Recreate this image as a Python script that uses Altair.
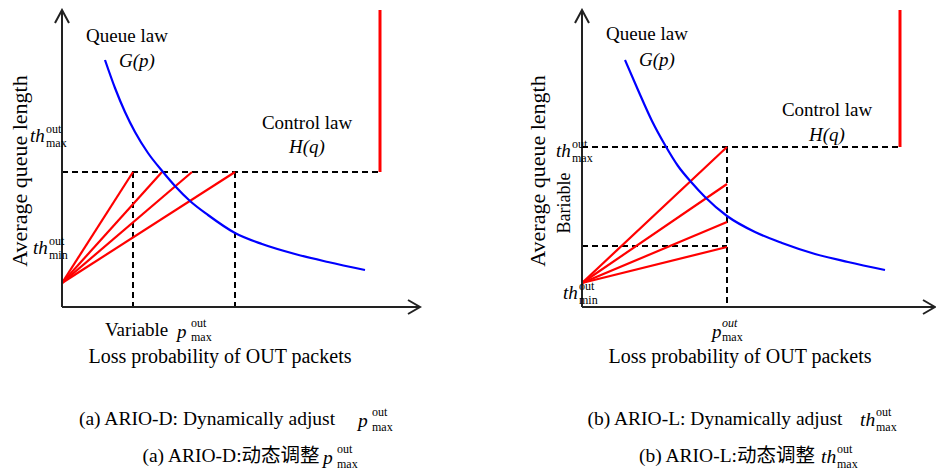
import altair as alt
import pandas as pd

# ---------------- data (in page-pixel-like units, mapped by linear scales) ----------------
# Panel (a): ARIO-D
a_axis_origin = (62, 307)
a_axis_top = 10
a_axis_right = 420
a_curve_x = [105, 115, 125, 135, 148, 163, 175, 190, 208, 235, 262, 295, 328, 365]
a_curve_y = [60, 88, 112, 132, 153, 172, 186, 201, 215, 233, 244, 254, 262, 270]
a_red_start = (62, 283)
a_red_end_x = [133, 162, 192, 235]
a_thmax_y = 172
a_ctrl_x = 380
a_dash_vx = [133, 235]

# Panel (b): ARIO-L
b_axis_origin = (582, 307)
b_axis_top = 10
b_axis_right = 935
b_curve_x = [625, 638, 652, 665, 678, 692, 705, 727, 755, 782, 815, 848, 885]
b_curve_y = [60, 90, 121, 145, 166, 183, 197, 216, 232, 243, 254, 262, 270]
b_red_start = (582, 283)
b_red_end_x = 727
b_red_end_y = [147, 184, 222, 247]
b_thmax_y = 147
b_low_y = 246
b_ctrl_x = 900

# ---------------- build line segments ----------------
rows = []
def seg(kind, sid, xs, ys):
    for i, (x, y) in enumerate(zip(xs, ys)):
        rows.append(dict(kind=kind, sid=sid, o=i, x=x, y=y))

def axes(prefix, origin, top, right):
    ox, oy = origin
    seg("axis", prefix + "y", [ox, ox], [oy, top])
    seg("axis", prefix + "x", [ox, right], [oy, oy])
    seg("axis", prefix + "ya", [ox - 7, ox, ox + 7], [top + 13, top, top + 13])
    seg("axis", prefix + "xa", [right - 12, right, right - 12], [oy - 7, oy, oy + 7])

axes("a", a_axis_origin, a_axis_top, a_axis_right)
axes("b", b_axis_origin, b_axis_top, b_axis_right)

# dashed
seg("dash", "a1", [a_axis_origin[0], a_ctrl_x], [a_thmax_y, a_thmax_y])
for i, vx in enumerate(a_dash_vx):
    seg("dash", f"av{i}", [vx, vx], [a_thmax_y, a_axis_origin[1]])
seg("dash", "b1", [b_axis_origin[0], b_ctrl_x], [b_thmax_y, b_thmax_y])
seg("dash", "b2", [b_axis_origin[0], b_red_end_x], [b_low_y, b_low_y])
seg("dash", "bv", [b_red_end_x, b_red_end_x], [b_thmax_y, b_axis_origin[1]])

# red thin
for i, ex in enumerate(a_red_end_x):
    seg("red", f"ar{i}", [a_red_start[0], ex], [a_red_start[1], a_thmax_y])
for i, ey in enumerate(b_red_end_y):
    seg("red", f"br{i}", [b_red_start[0], b_red_end_x], [b_red_start[1], ey])

# red thick (control law)
seg("redthick", "ac", [a_ctrl_x, a_ctrl_x], [a_thmax_y, a_axis_top])
seg("redthick", "bc", [b_ctrl_x, b_ctrl_x], [b_thmax_y, b_axis_top])

# blue curves
seg("blue", "ag", a_curve_x, a_curve_y)
seg("blue", "bg", b_curve_x, b_curve_y)

lines = pd.DataFrame(rows)

X = alt.X("x:Q", scale=alt.Scale(domain=[8, 936], nice=False, zero=False), axis=None)
Y = alt.Y("y:Q", scale=alt.Scale(domain=[8, 472], nice=False, zero=False, reverse=True), axis=None)

def line_layer(kind, color, width, dash=None, interp=None):
    kw = dict(color=color, strokeWidth=width, clip=False)
    if dash:
        kw["strokeDash"] = dash
    if interp:
        kw["interpolate"] = interp
    return alt.Chart(lines).transform_filter(alt.datum.kind == kind).mark_line(**kw).encode(
        x=X, y=Y, detail="sid:N", order="o:Q")

layers = [
    line_layer("dash", "#000000", 2, [6, 4]),
    line_layer("red", "#ff0000", 2.2),
    line_layer("redthick", "#ff0000", 3),
    line_layer("blue", "#0000ff", 2.2, interp="monotone"),
    line_layer("axis", "#222222", 2),
]

# ---------------- texts ----------------
SERIF = "'Times New Roman', 'Liberation Serif', 'DejaVu Serif', serif"
CJK = "'Times New Roman', 'Liberation Serif', 'Noto Sans CJK SC', serif"
texts = [
    # x, y, text, size, italic, align, angle, font
    # panel (a)
    (127, 36, "Queue law", 19, False, "center", 0, SERIF),
    (137, 61, "G(p)", 19, True, "center", 0, SERIF),
    (307, 123, "Control law", 19, False, "center", 0, SERIF),
    (307, 147, "H(q)", 19, True, "center", 0, SERIF),
    (30, 136, "th", 19, True, "left", 0, SERIF),
    (46, 129, "out", 12, False, "left", 0, SERIF),
    (46, 143, "max", 12, False, "left", 0, SERIF),
    (33, 248, "th", 19, True, "left", 0, SERIF),
    (49, 241, "out", 12, False, "left", 0, SERIF),
    (49, 255, "min", 12, False, "left", 0, SERIF),
    (105, 330, "Variable", 19, False, "left", 0, SERIF),
    (177, 332, "p", 19, True, "left", 0, SERIF),
    (191, 323, "out", 12, False, "left", 0, SERIF),
    (191, 337, "max", 12, False, "left", 0, SERIF),
    (220, 357, "Loss probability of OUT packets", 20, False, "center", 0, SERIF),
    (207, 419, "(a) ARIO-D: Dynamically adjust", 19.5, False, "center", 0, SERIF),
    (358, 421, "p", 19.5, True, "left", 0, SERIF),
    (372, 412, "out", 12, False, "left", 0, SERIF),
    (372, 427, "max", 12, False, "left", 0, SERIF),
    (231, 456, "(a) ARIO-D:动态调整", 19.5, False, "center", 0, CJK),
    (323, 458, "p", 19.5, True, "left", 0, SERIF),
    (337, 449, "out", 12, False, "left", 0, SERIF),
    (337, 464, "max", 12, False, "left", 0, SERIF),
    (19.5, 171, "Average queue length", 22, False, "center", 270, SERIF),
    # panel (b)
    (647, 34, "Queue law", 19, False, "center", 0, SERIF),
    (657, 60, "G(p)", 19, True, "center", 0, SERIF),
    (827, 110, "Control law", 19, False, "center", 0, SERIF),
    (827, 135, "H(q)", 19, True, "center", 0, SERIF),
    (556, 151, "th", 19, True, "left", 0, SERIF),
    (572, 144, "out", 12, False, "left", 0, SERIF),
    (572, 158, "max", 12, False, "left", 0, SERIF),
    (565, 203, "Bariable", 18, False, "center", 270, SERIF),
    (563, 293, "th", 19, True, "left", 0, SERIF),
    (579, 286, "out", 12, False, "left", 0, SERIF),
    (579, 300, "min", 12, False, "left", 0, SERIF),
    (712, 332, "p", 19, True, "left", 0, SERIF),
    (722, 323, "out", 12, True, "left", 0, SERIF),
    (722, 337, "max", 12, False, "left", 0, SERIF),
    (740, 357, "Loss probability of OUT packets", 20, False, "center", 0, SERIF),
    (715, 419, "(b) ARIO-L: Dynamically adjust", 19.5, False, "center", 0, SERIF),
    (860, 420, "th", 19.5, True, "left", 0, SERIF),
    (876, 412, "out", 12, False, "left", 0, SERIF),
    (876, 427, "max", 12, False, "left", 0, SERIF),
    (727, 456, "(b) ARIO-L:动态调整", 19.5, False, "center", 0, CJK),
    (821, 457, "th", 19.5, True, "left", 0, SERIF),
    (837, 449, "out", 12, False, "left", 0, SERIF),
    (837, 464, "max", 12, False, "left", 0, SERIF),
    (538, 171, "Average queue length", 22, False, "center", 270, SERIF),
]
tdf = pd.DataFrame(texts, columns=["x", "y", "text", "size", "italic", "align", "angle", "font"])

groups = tdf.groupby(["italic", "align", "angle", "font"])
for (italic, align, angle, font), g in groups:
    mk = dict(align=align, baseline="middle", font=font, color="#000000",
              fontStyle="italic" if italic else "normal")
    if angle:
        mk["angle"] = int(angle)
    layers.append(
        alt.Chart(g.reset_index(drop=True)).mark_text(**mk).encode(
            x=X, y=Y, text="text:N", size=alt.Size("size:Q", scale=None, legend=None))
    )

chart = alt.layer(*layers).properties(
    width=928, height=464, padding=0, autosize=alt.AutoSizeParams(type="none"),
    background="#ffffff"
).configure_view(stroke=None)

chart.save("out.html", embed_options={"renderer": "svg", "actions": False})
